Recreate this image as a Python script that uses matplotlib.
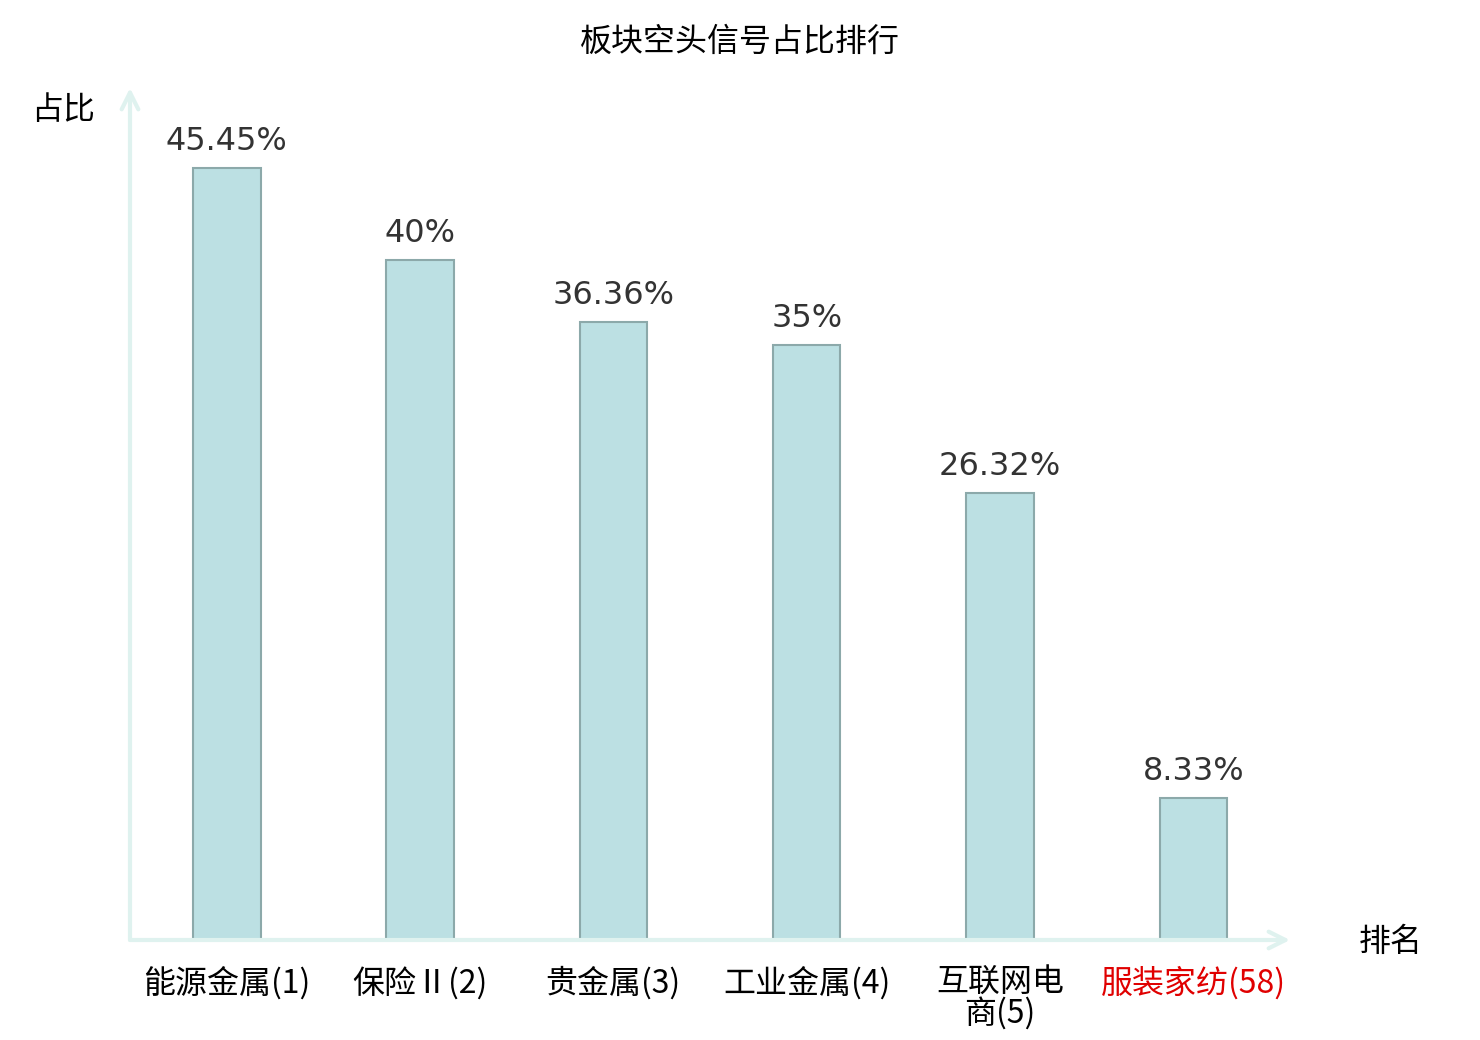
import matplotlib
matplotlib.use('Agg')
import matplotlib.pyplot as plt
import numpy as np

plt.rcParams['font.family'] = ['Noto Sans CJK SC', 'DejaVu Sans']

# data
sectors = ['能源金属(1)', '保险Ⅱ(2)', '贵金属(3)', '工业金属(4)', '互联网电\n商(5)', '服装家纺(58)']
ratios = [45.45, 40, 36.36, 35, 26.32, 8.33]
ratio_labels = ['45.45%', '40%', '36.36%', '35%', '26.32%', '8.33%']
highlight = '服装家纺(58)'

axis_color = '#dff2ef'

fig = plt.figure(figsize=(14.8, 10.4), dpi=100)
ax = fig.add_axes([130 / 1480, 100 / 1040, 1160 / 1480, 852 / 1040])

x = np.arange(len(sectors))
bars = ax.bar(x, ratios, width=0.35, color='#bce0e3', edgecolor='#8ca9aa', linewidth=1.5)

for b, lab in zip(bars, ratio_labels):
    ax.annotate(lab, (b.get_x() + b.get_width() / 2, b.get_height()),
                xytext=(0, 8), textcoords='offset points', ha='center', va='bottom',
                fontsize=23, color='#333333', family='DejaVu Sans')

ax.set_xlim(-0.5, 5.5)
ax.set_ylim(0, 50.15)
ax.set_xticks(x)
ax.set_xticklabels(sectors, fontsize=23, linespacing=0.95)
for t in ax.get_xticklabels():
    if t.get_text() == highlight:
        t.set_color('#e00000')
ax.tick_params(axis='x', length=0, pad=19)
ax.set_yticks([])
for s in ax.spines.values():
    s.set_visible(False)

# axis arrows
ax.annotate('', xy=(1.0, 0), xytext=(0, 0), xycoords='axes fraction',
            arrowprops=dict(arrowstyle='->', color=axis_color, lw=3, mutation_scale=30,
                            shrinkA=0, shrinkB=0))
ax.annotate('', xy=(0, 1.0), xytext=(0, 0), xycoords='axes fraction',
            arrowprops=dict(arrowstyle='->', color=axis_color, lw=3, mutation_scale=30,
                            shrinkA=0, shrinkB=0))

fig.text(740 / 1480, 1 - 42 / 1040, '板块空头信号占比排行', ha='center', va='center', fontsize=23)
fig.text(63 / 1480, 1 - 110 / 1040, '占比', ha='center', va='center', fontsize=23)
fig.text(1391 / 1480, 1 - 942 / 1040, '排名', ha='center', va='center', fontsize=23)

fig.savefig('out.png', dpi=100)
